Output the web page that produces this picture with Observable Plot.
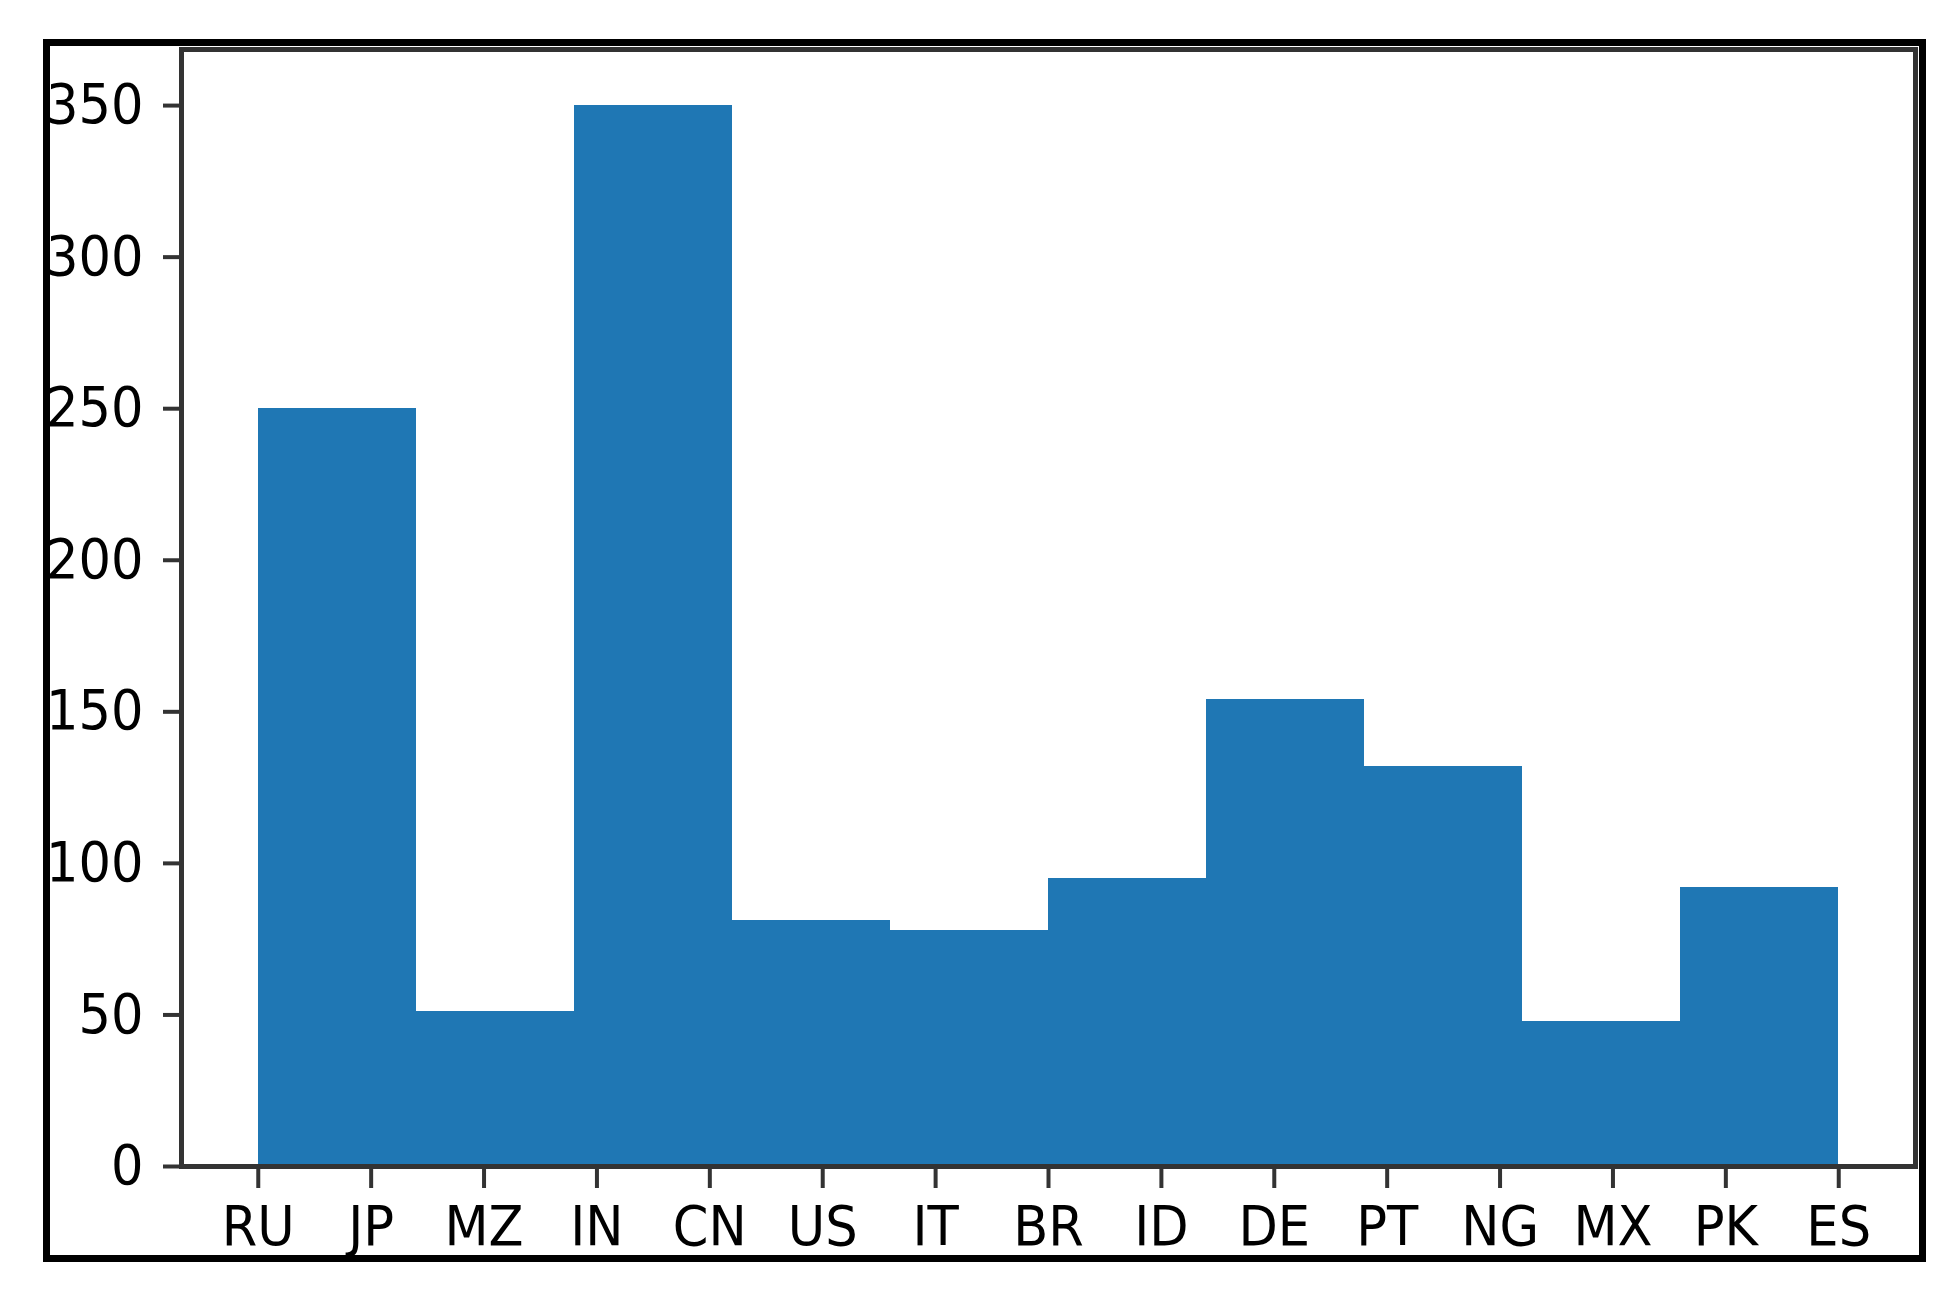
<!DOCTYPE html>
<html>
<head>
<meta charset="utf-8">
<script src="https://cdn.jsdelivr.net/npm/d3@7"></script>
<script src="https://cdn.jsdelivr.net/npm/@observablehq/plot@0.6"></script>
<style>
  html, body { margin: 0; padding: 0; background: #fff; }
  #wrap { position: relative; width: 1957px; height: 1310px; overflow: hidden; }
  #border { position: absolute; left: 43px; top: 39px; width: 1883px; height: 1223px;
            border: 7px solid #000; box-sizing: border-box; pointer-events: none; }
</style>
</head>
<body>
<div id="wrap"><div id="chart"></div><div id="border"></div></div>
<script>
// Category tick labels (positions 0..14 on the x axis)
const countries = ["RU","JP","MZ","IN","CN","US","IT","BR","ID","DE","PT","NG","MX","PK","ES"];
// Histogram bin edges (10 bins over 0..14)
const binEdges = [0, 1.4, 2.8, 4.2, 5.6, 7.0, 8.4, 9.8, 11.2, 12.6, 14];
// Bin counts
const counts = [250, 51, 350, 81, 78, 95, 154, 132, 48, 92];
// Y tick values
const yTicks = [0, 50, 100, 150, 200, 250, 300, 350];

const bins = counts.map((c, i) => ({x1: binEdges[i], x2: binEdges[i + 1], count: c}));

const chart = Plot.plot({
  width: 1957,
  height: 1310,
  marginLeft: 181,
  marginRight: 42,
  marginTop: 49,
  marginBottom: 144,
  style: {fontFamily: "DejaVu Sans", fontSize: "55px", color: "#000", background: "transparent"},
  x: {type: "linear", domain: [-0.68, 14.68]},
  y: {domain: [0, 368.5]},
  marks: [
    Plot.rectY(bins, {x1: "x1", x2: "x2", y: "count", fill: "#1f77b4", shapeRendering: "crispEdges"}),
    Plot.axisX({ticks: d3.range(countries.length), tickFormat: i => countries[i],
                tickSize: 22, tickPadding: 17, stroke: "#333", strokeWidth: 4,
                fill: "#000", fontSize: 55, label: null}),
    Plot.axisY({ticks: yTicks, tickFormat: d => String(d), tickSize: 18, tickPadding: 20,
                stroke: "#333", strokeWidth: 4, fill: "#000", fontSize: 55, label: null}),
    Plot.frame({stroke: "#333", strokeWidth: 5})
  ]
});

// Slightly condense tick labels horizontally to match the reference glyphs
chart.querySelectorAll('g[aria-label$="tick label"] text').forEach(t => {
  const tr = t.getAttribute("transform") || "";
  t.setAttribute("transform", tr + " scale(0.93,1)");
});

document.getElementById("chart").appendChild(chart);
</script>
</body>
</html>
